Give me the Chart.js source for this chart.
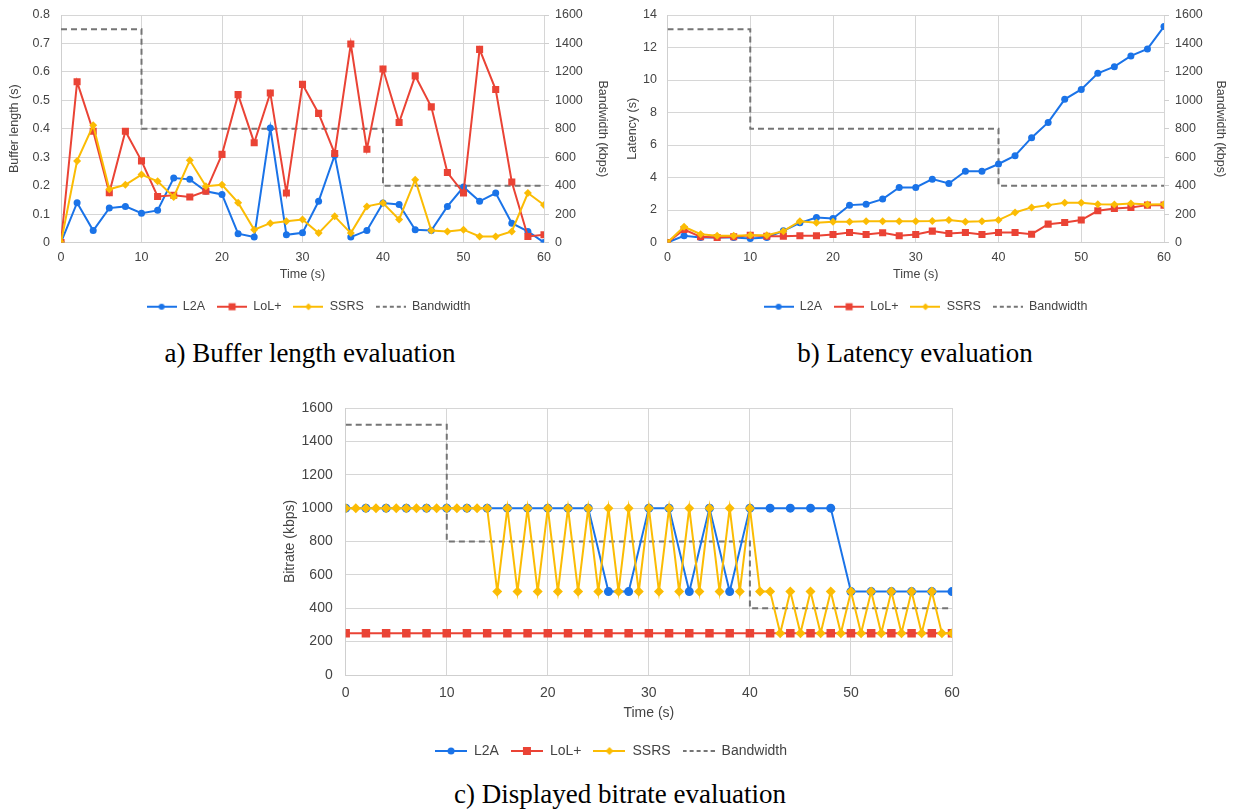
<!DOCTYPE html>
<html>
<head>
  <title>Evaluation charts</title>
  <script src="https://cdn.jsdelivr.net/npm/chart.js"></script>
  <style>
    body { margin: 0; background: #fff; width: 1234px; height: 812px; position: relative; overflow: hidden; }
    canvas { position: absolute; }
    .caption { position: absolute; font-family: "Liberation Serif", "Times New Roman", serif; font-size: 27px; line-height: 31px; color: #000; text-align: center; white-space: nowrap; }
  </style>
</head>
<body>
  <canvas id="chartA" style="left:0px;top:0px;"></canvas>
  <canvas id="chartB" style="left:617px;top:0px;"></canvas>
  <canvas id="chartC" style="left:270px;top:385px;"></canvas>
  <div class="caption" style="left:110px;top:338px;width:400px;">a) Buffer length evaluation</div>
  <div class="caption" style="left:715px;top:338px;width:400px;">b) Latency evaluation</div>
  <div class="caption" style="left:420px;top:779px;width:400px;">c) Displayed bitrate evaluation</div>

  <script>
    // time axis (s)
    var time2 = [0, 2, 4, 6, 8, 10, 12, 14, 16, 18, 20, 22, 24, 26, 28, 30, 32, 34, 36, 38, 40, 42, 44, 46, 48, 50, 52, 54, 56, 58, 60];
    var time1 = [0, 1, 2, 3, 4, 5, 6, 7, 8, 9, 10, 11, 12, 13, 14, 15, 16, 17, 18, 19, 20, 21, 22, 23, 24, 25, 26, 27, 28, 29, 30,
                 31, 32, 33, 34, 35, 36, 37, 38, 39, 40, 41, 42, 43, 44, 45, 46, 47, 48, 49, 50, 51, 52, 53, 54, 55, 56, 57, 58, 59, 60];

    // bandwidth profile (kbps)
    var bwTime = [0, 10, 10, 40, 40, 60];
    var bwKbps = [1500, 1500, 800, 800, 400, 400];

    // a) buffer length (s)
    var bufferL2A = [0, 0.14, 0.042, 0.121, 0.127, 0.103, 0.113, 0.227, 0.222, 0.18, 0.169, 0.031, 0.019, 0.403, 0.027, 0.034,
                     0.145, 0.307, 0.019, 0.042, 0.139, 0.134, 0.045, 0.042, 0.127, 0.195, 0.145, 0.174, 0.068, 0.039, 0];
    var bufferLoL = [0, 0.565, 0.391, 0.175, 0.391, 0.287, 0.162, 0.166, 0.16, 0.18, 0.31, 0.52, 0.351, 0.526, 0.174, 0.556,
                     0.454, 0.313, 0.698, 0.328, 0.61, 0.422, 0.586, 0.477, 0.246, 0.174, 0.679, 0.538, 0.213, 0.021, 0.027];
    var bufferSSRS = [0, 0.287, 0.412, 0.187, 0.203, 0.239, 0.215, 0.16, 0.289, 0.198, 0.203, 0.14, 0.045, 0.068, 0.075, 0.081,
                      0.033, 0.092, 0.033, 0.127, 0.139, 0.081, 0.221, 0.042, 0.039, 0.045, 0.021, 0.021, 0.039, 0.174, 0.132];

    // b) latency (s)
    var latencyL2A = [0, 0.41, 0.31, 0.31, 0.31, 0.25, 0.31, 0.72, 1.21, 1.54, 1.48, 2.3, 2.36, 2.67, 3.39, 3.39,
                      3.9, 3.63, 4.39, 4.39, 4.83, 5.34, 6.45, 7.39, 8.81, 9.42, 10.41, 10.82, 11.48, 11.91, 13.29];
    var latencyLoL = [0, 0.8, 0.35, 0.31, 0.35, 0.45, 0.39, 0.39, 0.41, 0.41, 0.49, 0.62, 0.49, 0.6, 0.41, 0.49,
                      0.7, 0.55, 0.62, 0.49, 0.62, 0.62, 0.51, 1.13, 1.23, 1.38, 1.95, 2.09, 2.16, 2.3, 2.3];
    var latencySSRS = [0, 0.97, 0.51, 0.41, 0.41, 0.45, 0.45, 0.7, 1.31, 1.21, 1.27, 1.27, 1.31, 1.31, 1.31, 1.31,
                       1.33, 1.38, 1.27, 1.31, 1.38, 1.85, 2.16, 2.3, 2.44, 2.44, 2.36, 2.34, 2.4, 2.34, 2.36];

    // c) displayed bitrate (kbps)
    var bitrateL2A = [1000, 1000, 1000, 1000, 1000, 1000, 1000, 1000, 1000, 1000, 1000, 1000, 1000, 500, 500, 1000,
                      1000, 500, 1000, 500, 1000, 1000, 1000, 1000, 1000, 500, 500, 500, 500, 500, 500];
    var bitrateLoL = [250, 250, 250, 250, 250, 250, 250, 250, 250, 250, 250, 250, 250, 250, 250, 250,
                      250, 250, 250, 250, 250, 250, 250, 250, 250, 250, 250, 250, 250, 250, 250];
    var bitrateSSRS = [1000, 1000, 1000, 1000, 1000, 1000, 1000, 1000, 1000, 1000, 1000, 1000, 1000, 1000, 1000,
                       500, 1000, 500, 1000, 500, 1000, 500, 1000, 500, 1000, 500, 1000, 500, 1000, 500, 1000,
                       500, 1000, 500, 1000, 500, 1000, 500, 1000, 500, 1000,
                       500, 500, 250, 500, 250, 500, 250, 500, 250, 500, 250, 500, 250, 500, 250, 500, 250, 500, 250, 250];

    var seriesNames = ['L2A', 'LoL+', 'SSRS', 'Bandwidth'];
    var BLUE = '#1a73e8', RED = '#ea4335', YELLOW = '#fbbc04', GREY = '#757575';
    var TEXT = '#444444';

    Chart.defaults.font.family = "'Liberation Sans', Arial, sans-serif";
    Chart.defaults.color = TEXT;
    Chart.defaults.animation = false;

    function points(xs, ys) {
      var out = [];
      for (var i = 0; i < xs.length; i++) out.push({ x: xs[i], y: ys[i] });
      return out;
    }

    // draws a small "line + marker" picture for the legend
    function makeIcon(color, marker, size, dashed, w) {
      var c = document.createElement('canvas');
      c.width = w; c.height = 12;
      var ctx = c.getContext('2d');
      ctx.strokeStyle = color;
      ctx.fillStyle = color;
      ctx.lineWidth = 2;
      if (dashed) ctx.setLineDash([4, 3]);
      ctx.beginPath();
      ctx.moveTo(0, 6);
      ctx.lineTo(w, 6);
      ctx.stroke();
      var cx = w / 2;
      if (marker === 'circle') {
        ctx.beginPath(); ctx.arc(cx, 6, size, 0, Math.PI * 2); ctx.fill();
      } else if (marker === 'rect') {
        ctx.fillRect(cx - size, 6 - size, size * 2, size * 2);
      } else if (marker === 'diamond') {
        ctx.beginPath();
        ctx.moveTo(cx, 6 - size); ctx.lineTo(cx + size, 6); ctx.lineTo(cx, 6 + size); ctx.lineTo(cx - size, 6);
        ctx.closePath(); ctx.fill();
      }
      return c;
    }

    function lineSet(label, data, color, style, radius, order, axis) {
      return {
        label: label,
        data: data,
        borderColor: color,
        backgroundColor: color,
        borderWidth: 2,
        pointStyle: style,
        pointRadius: radius,
        pointBorderWidth: 0,
        pointBackgroundColor: color,
        tension: 0,
        order: order,
        yAxisID: axis || 'y'
      };
    }

    function bandwidthSet(axis) {
      return {
        label: seriesNames[3],
        data: points(bwTime, bwKbps),
        borderColor: GREY,
        borderWidth: 2,
        borderDash: [6, 4],
        pointRadius: 0,
        order: 4,
        yAxisID: axis
      };
    }

    function legendOptions(icons, fontSize) {
      return {
        position: 'bottom',
        labels: {
          usePointStyle: true,
          pointStyleWidth: icons[0].width,
          padding: 12,
          font: { size: fontSize },
          color: TEXT,
          generateLabels: function(chart) {
            return chart.data.datasets.map(function(ds, i) {
              return { text: ds.label, pointStyle: icons[i], datasetIndex: i, fontColor: TEXT,
                       hidden: false, lineWidth: 0, strokeStyle: 'rgba(0,0,0,0)', fillStyle: 'rgba(0,0,0,0)' };
            });
          }
        }
      };
    }

    function timeAxis(fontSize, height, tickPad, titlePad) {
      return {
        type: 'linear',
        min: 0,
        max: 60,
        afterFit: function(axis) { axis.height = height; },
        ticks: {
          stepSize: 2,
          autoSkip: false,
          maxRotation: 0,
          padding: tickPad,
          font: { size: fontSize },
          callback: function(v) { return v % 10 === 0 ? v : null; }
        },
        grid: {
          drawTicks: false,
          color: function(ctx) { return ctx.tick && ctx.tick.value % 10 === 0 ? '#d6d6d6' : '#ececec'; }
        },
        border: { color: '#cfcfcf' },
        title: { display: true, text: 'Time (s)', font: { size: fontSize }, padding: titlePad }
      };
    }

    function leftAxis(title, max, step, fontSize, width, tickPad, titleTop, decimals) {
      return {
        min: 0, max: max,
        afterFit: function(axis) { axis.width = width; axis.paddingTop = 4; },
        ticks: {
          stepSize: step, font: { size: fontSize }, padding: tickPad,
          callback: function(v) { return +v.toFixed(decimals); }
        },
        grid: { drawTicks: false, color: '#d6d6d6' },
        border: { color: '#cfcfcf' },
        title: { display: true, text: title, font: { size: fontSize }, padding: { top: titleTop, bottom: 0 } }
      };
    }

    function rightAxis(fontSize, width, titleTop) {
      return {
        position: 'right',
        min: 0,
        max: 1600,
        afterFit: function(axis) { axis.width = width; axis.paddingTop = 4; },
        ticks: { stepSize: 200, font: { size: fontSize }, padding: 6, callback: function(v) { return v; } },
        grid: { drawOnChartArea: false, tickLength: 5, color: '#cfcfcf' },
        border: { display: false },
        title: { display: true, text: 'Bandwidth (kbps)', font: { size: fontSize }, padding: { top: titleTop, bottom: 0 } }
      };
    }

    var iconsSmall = [
      makeIcon(BLUE, 'circle', 3, false, 30),
      makeIcon(RED, 'rect', 3.5, false, 30),
      makeIcon(YELLOW, 'diamond', 3.5, false, 30),
      makeIcon(GREY, null, 0, true, 30)
    ];
    var iconsBig = [
      makeIcon(BLUE, 'circle', 3.5, false, 32),
      makeIcon(RED, 'rect', 4, false, 32),
      makeIcon(YELLOW, 'diamond', 4, false, 32),
      makeIcon(GREY, null, 0, true, 32)
    ];

    // a) buffer length
    var canvasA = document.getElementById('chartA');
    canvasA.width = 617; canvasA.height = 327;
    new Chart(canvasA, {
      type: 'line',
      data: {
        datasets: [
          lineSet(seriesNames[0], points(time2, bufferL2A), BLUE, 'circle', 3.5, 3),
          lineSet(seriesNames[1], points(time2, bufferLoL), RED, 'rect', 5, 2),
          lineSet(seriesNames[2], points(time2, bufferSSRS), YELLOW, 'rectRot', 4, 1),
          bandwidthSet('y1')
        ]
      },
      options: {
        responsive: false,
        layout: { padding: { left: 0, right: 0, top: 15, bottom: 4 } },
        plugins: { legend: legendOptions(iconsSmall, 12.5), tooltip: { enabled: false } },
        scales: {
          x: timeAxis(12.5, 46, 7.5, { top: 1, bottom: 6 }),
          y: leftAxis('Buffer length (s)', 0.8, 0.1, 12.5, 61, 11, 7.5, 1),
          y1: rightAxis(12.5, 73, 7.5)
        }
      }
    });

    // b) latency
    var canvasB = document.getElementById('chartB');
    canvasB.width = 617; canvasB.height = 327;
    new Chart(canvasB, {
      type: 'line',
      data: {
        datasets: [
          lineSet(seriesNames[0], points(time2, latencyL2A), BLUE, 'circle', 3.5, 3),
          lineSet(seriesNames[1], points(time2, latencyLoL), RED, 'rect', 5, 2),
          lineSet(seriesNames[2], points(time2, latencySSRS), YELLOW, 'rectRot', 4, 1),
          bandwidthSet('y1')
        ]
      },
      options: {
        responsive: false,
        layout: { padding: { left: 0, right: 0, top: 15, bottom: 4 } },
        plugins: { legend: legendOptions(iconsSmall, 12.5), tooltip: { enabled: false } },
        scales: {
          x: timeAxis(12.5, 46, 7.5, { top: 1, bottom: 6 }),
          y: leftAxis('Latency (s)', 14, 2, 12.5, 50.5, 10.5, 8.5, 0),
          y1: rightAxis(12.5, 70, 6.5)
        }
      }
    });

    // c) displayed bitrate
    var canvasC = document.getElementById('chartC');
    canvasC.width = 700; canvasC.height = 387;
    new Chart(canvasC, {
      type: 'line',
      data: {
        datasets: [
          lineSet(seriesNames[0], points(time2, bitrateL2A), BLUE, 'circle', 4.5, 3),
          lineSet(seriesNames[1], points(time2, bitrateLoL), RED, 'rect', 6, 2),
          lineSet(seriesNames[2], points(time1, bitrateSSRS), YELLOW, 'rectRot', 5, 1),
          bandwidthSet('y')
        ]
      },
      options: {
        responsive: false,
        layout: { padding: { left: 0, right: 18, top: 23, bottom: 4 } },
        plugins: { legend: legendOptions(iconsBig, 14), tooltip: { enabled: false } },
        scales: {
          x: timeAxis(14, 57, 10, { top: 2.8, bottom: 10.6 }),
          y: leftAxis('Bitrate (kbps)', 1600, 200, 14, 75.7, 13, 11.6, 0)
        }
      }
    });
  </script>
</body>
</html>
